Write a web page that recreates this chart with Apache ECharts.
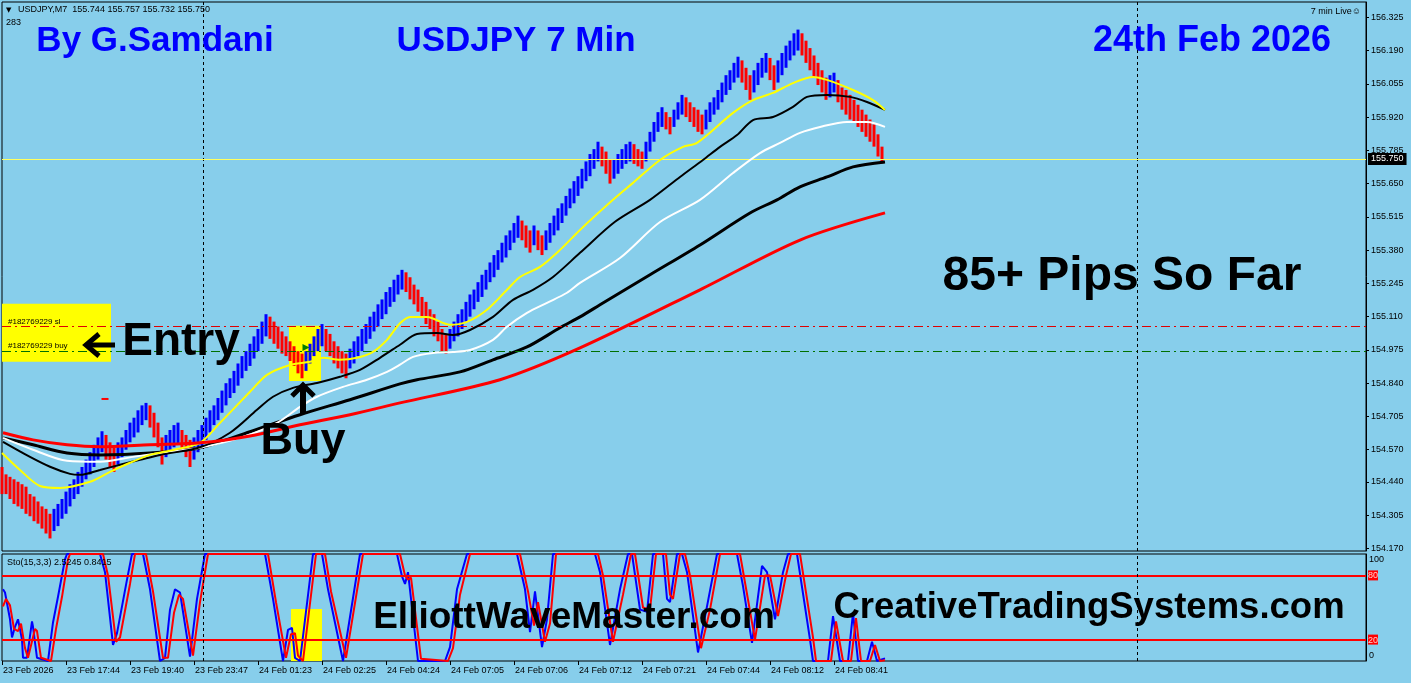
<!DOCTYPE html>
<html><head><meta charset="utf-8">
<script src="https://cdn.jsdelivr.net/npm/echarts@6/dist/echarts.min.js"></script>
<style>html,body{margin:0;padding:0;background:#87ceeb;}#c{width:1411px;height:683px;}</style>
</head><body><div id="c"></div>
<script>
// ---------- DATA ----------
const priceTickLabels = ['156.325','156.190','156.055','155.920','155.785','155.650','155.515','155.380','155.245','155.110','154.975','154.840','154.705','154.570','154.440','154.305','154.170'];
const timeLabels = ['23 Feb 2026','23 Feb 17:44','23 Feb 19:40','23 Feb 23:47','24 Feb 01:23','24 Feb 02:25','24 Feb 04:24','24 Feb 07:05','24 Feb 07:06','24 Feb 07:12','24 Feb 07:21','24 Feb 07:44','24 Feb 08:12','24 Feb 08:41'];
const timeLabelBars = [0,16,32,48,64,80,96,112,128,144,160,176,192,208];

const barLow = [
154.39,154.39,154.37,154.35,154.34,154.33,154.31,154.30,154.28,154.27,154.25,154.23,154.21,
154.24,154.26,154.29,154.31,154.34,154.37,154.39,154.42,154.45,154.47,154.50,154.53,154.56,
154.53,154.50,154.48,
154.51,154.54,154.57,154.60,154.62,154.64,154.67,154.69,
154.66,154.62,154.58,154.51,
154.54,154.56,154.58,154.59,
154.57,154.54,154.50,
154.53,154.56,154.58,154.61,154.64,154.67,154.69,154.72,154.75,154.78,154.80,154.83,154.86,154.89,154.91,154.94,154.97,155.00,155.03,
155.02,155.00,154.98,154.96,154.95,154.93,154.91,154.88,154.86,
154.89,154.92,154.95,154.97,154.99,
154.97,154.95,154.92,154.90,154.88,154.86,
154.90,154.92,154.95,154.97,155.00,155.02,155.05,155.07,155.10,155.12,155.15,155.17,155.20,155.22,
155.21,155.18,155.16,155.13,155.11,155.08,155.06,155.03,155.01,154.97,154.96,
154.98,155.01,155.03,155.06,155.09,155.11,155.14,155.17,155.19,155.22,155.25,155.27,155.30,155.33,155.35,155.38,155.41,155.43,
155.42,155.39,155.37,155.40,155.38,155.36,
155.38,155.41,155.44,155.46,155.49,155.52,155.55,155.57,155.60,155.63,155.66,155.68,155.71,155.74,
155.72,155.69,155.65,
155.67,155.69,155.71,155.73,155.74,
155.73,155.72,155.71,
155.74,155.78,155.82,155.86,155.88,
155.87,155.85,
155.88,155.91,155.93,
155.92,155.90,155.88,155.86,155.85,
155.87,155.90,155.93,155.95,155.98,156.01,156.03,156.06,156.08,
156.06,156.03,155.99,
156.02,156.05,156.08,156.10,
156.07,156.03,
156.06,156.09,156.12,156.15,156.17,156.19,
156.17,156.14,156.11,156.08,156.05,156.02,155.99,156.00,156.02,155.98,155.95,155.93,155.91,155.90,155.88,155.86,155.84,155.82,155.80,155.76,155.732
];
const barHigh = [
154.50,154.47,154.46,154.45,154.44,154.43,154.42,154.39,154.38,154.36,154.34,154.33,154.31,
154.33,154.35,154.37,154.40,154.43,154.45,154.48,154.50,154.53,154.56,154.59,154.62,154.645,
154.63,154.60,154.58,
154.60,154.62,154.65,154.68,154.70,154.73,154.75,154.76,
154.75,154.72,154.68,154.62,
154.63,154.65,154.67,154.68,
154.65,154.63,154.61,
154.62,154.65,154.67,154.70,154.73,154.75,154.78,154.81,154.84,154.86,154.89,154.92,154.95,154.97,155.00,155.03,155.06,155.09,155.12,
155.11,155.09,155.07,155.05,155.03,155.01,154.99,154.97,154.96,
154.97,155.00,155.03,155.06,155.08,
155.06,155.04,155.01,154.99,154.97,154.96,
154.98,155.01,155.03,155.06,155.08,155.11,155.13,155.16,155.18,155.21,155.23,155.26,155.28,155.30,
155.29,155.27,155.24,155.22,155.19,155.17,155.14,155.12,155.09,155.06,155.04,
155.06,155.09,155.12,155.14,155.17,155.20,155.22,155.25,155.28,155.30,155.33,155.36,155.38,155.41,155.44,155.46,155.49,155.52,
155.50,155.48,155.46,155.48,155.46,155.44,
155.46,155.49,155.52,155.55,155.57,155.60,155.63,155.66,155.68,155.71,155.74,155.77,155.79,155.82,
155.80,155.78,155.75,
155.75,155.77,155.79,155.81,155.82,
155.81,155.79,155.78,
155.82,155.86,155.90,155.94,155.96,
155.94,155.92,
155.95,155.98,156.01,
156.00,155.98,155.96,155.95,155.93,
155.95,155.98,156.00,156.03,156.06,156.09,156.11,156.14,156.165,
156.15,156.12,156.09,
156.11,156.14,156.16,156.18,
156.16,156.13,
156.15,156.18,156.21,156.23,156.26,156.275,
156.26,156.23,156.20,156.17,156.14,156.11,156.08,156.09,156.10,156.07,156.04,156.03,156.01,155.99,155.97,155.95,155.93,155.91,155.89,155.85,155.80
];

const maYellow = [[0,154.557],[4.5,154.488],[9.5,154.423],[14.5,154.415],[22,154.440],[27,154.480],[32,154.517],[37,154.549],[43,154.570],[49.5,154.598],[54.5,154.679],[62,154.805],[66.25,154.874],[72,154.914],[77,154.927],[80.25,154.943],[84.5,154.935],[88.75,154.943],[92.75,154.967],[96.25,155.016],[99.5,155.083],[102,155.109],[106.25,155.109],[112,155.077],[116.25,155.089],[121.25,155.138],[126.25,155.219],[129.5,155.271],[134.5,155.312],[139.5,155.381],[144.5,155.462],[152.75,155.584],[157.75,155.653],[164.5,155.746],[170.25,155.799],[173.75,155.815],[182.75,155.937],[187.75,155.989],[192.75,156.018],[197.75,156.058],[202.75,156.083],[206.25,156.071],[212.75,156.030],[217.75,155.989],[220.75,155.949]];
const maBlackFast = [[0.25,154.602],[7,154.541],[12,154.501],[17,154.472],[19.5,154.468],[24.5,154.488],[29.5,154.509],[34.5,154.529],[39.5,154.549],[49.5,154.580],[57,154.639],[63.75,154.732],[67.75,154.785],[72.75,154.821],[78.75,154.841],[84.5,154.866],[89.5,154.894],[94.5,154.943],[99.5,154.996],[103.75,155.040],[108.75,155.044],[112.75,155.036],[117,155.056],[122.75,155.109],[127.75,155.178],[132.75,155.219],[137.75,155.271],[144.5,155.369],[153.25,155.495],[162,155.584],[169.5,155.677],[175.25,155.746],[179.5,155.799],[183.75,155.847],[187.75,155.908],[192.75,155.920],[197.75,155.961],[201.25,156.002],[206.25,156.010],[212,156.002],[216.25,155.981],[220.75,155.949]];
const maWhite = [[0.25,154.618],[7.75,154.570],[16.25,154.525],[24.5,154.521],[32.75,154.541],[41.25,154.561],[49.5,154.578],[60.25,154.622],[68.75,154.679],[74.5,154.744],[78.75,154.785],[85.25,154.825],[91.25,154.854],[96.25,154.886],[99.5,154.915],[102.75,154.947],[107.75,154.963],[112.75,154.967],[117,154.975],[122.75,155.016],[126.25,155.069],[131.25,155.125],[136.25,155.166],[141.25,155.207],[144.5,155.247],[154.5,155.348],[164.5,155.494],[174.5,155.584],[182.75,155.693],[189.5,155.774],[194.5,155.815],[199.5,155.856],[204.5,155.880],[211.25,155.900],[216.25,155.900],[220.75,155.880]];
const maBlackSlow = [[0.25,154.618],[7.75,154.590],[16.25,154.557],[24.5,154.549],[37,154.557],[49.5,154.578],[62,154.643],[74.5,154.712],[87,154.773],[99.5,154.837],[103.75,154.854],[114.5,154.886],[122.75,154.935],[131.25,154.987],[139.5,155.065],[144.5,155.109],[149.5,155.158],[162,155.280],[174.5,155.401],[187,155.531],[193.75,155.584],[199.5,155.637],[206.25,155.677],[212.75,155.718],[220.75,155.738]];
const maRed = [[0.25,154.639],[7.75,154.610],[16.25,154.590],[24.5,154.582],[37,154.590],[49.5,154.598],[62,154.626],[74.5,154.671],[87,154.712],[99.5,154.760],[124.5,154.854],[144.5,154.983],[174.5,155.219],[199.5,155.421],[220.75,155.531]];

const stochMain = [[0.25,67],[0.75,64],[2,39],[2.5,22],[3.25,32],[4,39],[5,20],[5.25,3],[6.25,3],[7.5,37],[7.75,32],[8.75,3],[11.5,0],[12.75,36],[14,60],[15.75,95],[16.25,100],[24.5,100],[25.75,83],[27.75,15],[28.75,26],[31.25,76],[32.5,100],[35.25,100],[37,67],[39.5,0],[40.75,3],[42,48],[43.25,67],[44.5,64],[47,4],[48.75,58],[50.75,100],[65.75,100],[67.75,58],[70.25,0],[71.5,29],[72.5,31],[73.25,3],[74.5,0],[77.75,100],[80,100],[81.5,67],[85.25,0],[89.5,100],[98.75,100],[100,79],[100.75,72],[101.5,83],[104,0],[110.75,0],[112,13],[113.75,67],[116.25,100],[128.75,100],[130.75,67],[132,27],[133.25,65],[135,13],[136.25,39],[137.75,100],[148.25,100],[149.5,83],[152,15],[154.5,67],[156.5,100],[157.5,100],[159.5,48],[161.25,46],[162.75,100],[165.25,100],[166.25,58],[167,55],[168.75,100],[170,100],[171.25,83],[174,8],[176.25,51],[178.75,100],[183.75,100],[185.25,70],[187.5,17],[190,89],[191.25,83],[193.25,39],[195.25,83],[196.5,100],[198.75,100],[202,20],[202.75,0],[206.5,0],[207.75,42],[209.5,0],[211.5,0],[212.75,45],[214,0],[216.25,0],[217.5,18],[218.75,0],[220.75,2.5]];
const stochSignal = [[0.25,51],[1,58],[2,52],[3,30],[4,28],[4.75,35],[5.75,12],[6.5,3],[7,3],[8.25,30],[8.75,28],[9.75,3],[12.25,0],[13.5,30],[15,60],[16.5,95],[17,100],[25.25,100],[26.5,80],[28.5,18],[29.5,22],[32,72],[33.25,100],[36,100],[37.75,65],[40.25,3],[41.5,3],[43,45],[44.25,62],[45.25,58],[47.75,5],[49.5,55],[51.5,100],[66.5,100],[68.5,55],[71,3],[72.25,25],[73.25,26],[74,5],[75.25,0],[78.5,100],[80.75,100],[82.25,65],[86,3],[90.25,100],[99.5,100],[100.75,80],[101.5,76],[102.25,78],[104.75,2],[111.5,0],[112.75,12],[114.5,62],[117,100],[129.5,100],[131.5,65],[133,33],[134,55],[135.75,18],[137,35],[138.5,100],[149,100],[150.25,80],[152.75,18],[155.25,62],[157.25,100],[158.25,100],[160.25,50],[162,48],[163.5,100],[166,100],[167,62],[167.75,58],[169.5,100],[170.75,100],[172,80],[174.75,12],[177,48],[179.5,100],[184.5,100],[186,68],[188.25,20],[190.75,80],[192,80],[194,42],[196,80],[197.25,100],[199.5,100],[202.75,22],[203.5,0],[207.25,0],[208.5,37],[210.25,0],[212.25,0],[213.5,40],[214.75,0],[217,0],[218.25,15],[219.5,0],[220.75,0.8]];

const lastPrice = 155.750;
const slLevel = 155.067;
const buyLevel = 154.971;
const separatorBars = [50.25, 283.75];
const stochLevels = [80, 20];

// ---------- CHART ----------
const X_MAX = 341, Y_MIN = 154.159, Y_MAX = 156.387;
const FONT = 'Liberation Sans';
const priceTickValues = priceTickLabels.map(Number);
const bars = barLow.map((lo, i) => [i, lo, barHigh[i]]);
const mid = i => (barLow[i] + barHigh[i]) / 2;

const chart = echarts.init(document.getElementById('c'), null, {renderer: 'canvas'});
const vLines = separatorBars.map(v => ({xAxis: v, label: {show: false}, lineStyle: {color: '#000', type: [3, 3], width: 1}}));

function txt(text, x, y, size, color, align, weight, family) {
  return {type: 'text', x: x, y: y, z: 100, silent: true,
    style: {text: text, fontSize: size, fontFamily: family || FONT, fontWeight: weight || 'normal', fill: color, align: align || 'left', verticalAlign: 'middle'}};
}

const option = {
  backgroundColor: '#87ceeb',
  animation: false,
  grid: [
    {left: 2, right: 45, top: 2, height: 549, show: true, borderColor: '#000', borderWidth: 1, backgroundColor: 'transparent'},
    {left: 2, right: 45, top: 554, height: 107, show: true, borderColor: '#000', borderWidth: 1, backgroundColor: 'transparent'}
  ],
  xAxis: [
    {type: 'value', gridIndex: 0, min: 0, max: X_MAX, show: false, axisLine: {onZero: false}},
    {type: 'value', gridIndex: 1, min: 0, max: X_MAX, splitLine: {show: false}, axisLine: {show: false, onZero: false},
     axisTick: {show: true, customValues: timeLabelBars, length: 4, lineStyle: {color: '#000'}},
     axisLabel: {customValues: timeLabelBars, formatter: v => timeLabels[timeLabelBars.indexOf(v)] || '',
       align: 'left', margin: 5, fontSize: 9, fontFamily: FONT, color: '#000', padding: [0, 0, 0, 1]}}
  ],
  yAxis: [
    {type: 'value', gridIndex: 0, position: 'right', min: Y_MIN, max: Y_MAX, splitLine: {show: false},
     axisLine: {show: true, onZero: false, lineStyle: {color: '#000'}},
     axisTick: {show: true, customValues: priceTickValues, length: 3, lineStyle: {color: '#000'}},
     axisLabel: {customValues: priceTickValues, formatter: v => priceTickLabels[priceTickValues.indexOf(v)] || v.toFixed(3),
       margin: 5, fontSize: 9, fontFamily: FONT, color: '#000'}},
    {type: 'value', gridIndex: 1, position: 'right', min: 0, max: 100, splitLine: {show: false},
     axisLine: {show: true, onZero: false, lineStyle: {color: '#000'}},
     axisTick: {show: false},
     axisLabel: {customValues: [0, 20, 80, 100], margin: 2, fontSize: 9, fontFamily: FONT, color: '#000',
       formatter: v => v === 100 ? '{t|100}' : (v === 0 ? '{b|0}' : '{l|' + v + '}'),
       rich: {t: {padding: [12, 0, 0, 1], fontSize: 9, fontFamily: FONT},
              b: {padding: [0, 0, 10, 1], fontSize: 9, fontFamily: FONT},
              l: {backgroundColor: '#ff0000', color: '#ffd0d0', padding: [1, 0, 0, 0], fontSize: 9, fontFamily: FONT}}}}
  ],
  series: [
    {type: 'line', xAxisIndex: 0, yAxisIndex: 0, data: maRed, z: 1, silent: true, showSymbol: false,
     lineStyle: {opacity: 0},
     markArea: {silent: true, itemStyle: {color: '#ffff00', opacity: 1},
       data: [[{coord: [0, 155.162]}, {coord: [27.25, 154.927]}], [{coord: [71.75, 155.073]}, {coord: [79.75, 154.849]}]]},
     markLine: {silent: true, symbol: ['none', 'none'], animation: false,
       data: [
         {yAxis: slLevel, lineStyle: {color: '#e00000', type: [9, 4, 2, 4], width: 1},
          label: {show: true, position: 'insideStartTop', formatter: '#182769229 sl', fontSize: 8, fontFamily: FONT, color: '#000', distance: [6, 1]}},
         {yAxis: buyLevel, lineStyle: {color: '#007000', type: [9, 4, 2, 4], width: 1},
          label: {show: true, position: 'insideStartTop', formatter: '#182769229 buy', fontSize: 8, fontFamily: FONT, color: '#000', distance: [6, 1]}}
       ].concat(vLines)}},
    {type: 'custom', xAxisIndex: 0, yAxisIndex: 0, z: 3, data: bars, silent: true,
     renderItem: function (params, api) {
       const i = api.value(0);
       const top = api.coord([i, api.value(2)]);
       const bot = api.coord([i, api.value(1)]);
       const up = i > 0 && mid(i) > mid(i - 1);
       return {type: 'line', shape: {x1: top[0], y1: top[1], x2: bot[0], y2: bot[1]},
         style: {stroke: up ? '#0000ff' : '#ff0000', lineWidth: 3}};
     },
     markPoint: {silent: true, data: [
       {coord: [76, 154.985], symbol: 'triangle', symbolSize: [7, 7], symbolRotate: -90, itemStyle: {color: '#008000'}, label: {show: false}},
       {coord: [25.75, 154.776], symbol: 'rect', symbolSize: [7, 2], itemStyle: {color: '#ff0000'}, label: {show: false}}
     ]}},
    {type: 'line', xAxisIndex: 0, yAxisIndex: 0, data: maBlackSlow, z: 4, showSymbol: false, smooth: 0.3, silent: true, lineStyle: {color: '#000', width: 3}},
    {type: 'line', xAxisIndex: 0, yAxisIndex: 0, data: maWhite, z: 5, showSymbol: false, smooth: 0.3, silent: true, lineStyle: {color: '#fff', width: 2}},
    {type: 'line', xAxisIndex: 0, yAxisIndex: 0, data: maBlackFast, z: 6, showSymbol: false, smooth: 0.3, silent: true, lineStyle: {color: '#000', width: 2}},
    {type: 'line', xAxisIndex: 0, yAxisIndex: 0, data: maYellow, z: 7, showSymbol: false, smooth: 0.3, silent: true, lineStyle: {color: '#ffff00', width: 2}},
    {type: 'line', xAxisIndex: 0, yAxisIndex: 0, data: maRed, z: 8, showSymbol: false, smooth: 0.3, silent: true, lineStyle: {color: '#ff0000', width: 3},
     markLine: {silent: true, symbol: ['none', 'none'],
       data: [{yAxis: lastPrice, lineStyle: {color: '#ffff60', type: 'solid', width: 1},
         label: {show: true, position: 'end', formatter: lastPrice.toFixed(3), distance: 2, fontSize: 9, fontFamily: FONT,
           color: '#fff', backgroundColor: '#000', padding: [2, 3, 1, 3]}}]}},
    {type: 'line', xAxisIndex: 1, yAxisIndex: 1, data: stochSignal, z: 1, silent: true, showSymbol: false, lineStyle: {opacity: 0},
     markArea: {silent: true, itemStyle: {color: '#ffff00', opacity: 1}, data: [[{coord: [72.25, 48.6]}, {coord: [80, 0]}]]},
     markLine: {silent: true, symbol: ['none', 'none'],
       data: stochLevels.map(v => ({yAxis: v, label: {show: false}, lineStyle: {color: '#ff0000', type: 'solid', width: 2}})).concat(vLines)}},
    {type: 'line', xAxisIndex: 1, yAxisIndex: 1, data: stochMain, z: 3, showSymbol: false, silent: true, clip: false, lineStyle: {color: '#0000ff', width: 2}},
    {type: 'line', xAxisIndex: 1, yAxisIndex: 1, data: stochSignal, z: 4, showSymbol: false, silent: true, clip: false, lineStyle: {color: '#ff0000', width: 2}}
  ],
  graphic: [
    txt('\u25BC', 6, 10, 7, '#000', 'left', 'normal', 'DejaVu Sans'),
    txt('USDJPY,M7  155.744 155.757 155.732 155.750', 18, 10, 9, '#000'),
    txt('283', 6, 23, 9, '#000'),
    txt('7 min Live\u263A', 1361, 12, 9, '#000', 'right'),
    txt('By G.Samdani', 155, 41, 35, '#0000ff', 'center', 'bold'),
    txt('USDJPY 7 Min', 516, 41, 35, '#0000ff', 'center', 'bold'),
    txt('24th Feb 2026', 1212, 41, 36, '#0000ff', 'center', 'bold'),
    txt('85+ Pips So Far', 1122, 277, 48, '#000', 'center', 'bold'),
    txt('Entry', 181, 342, 46, '#000', 'center', 'bold'),
    txt('Buy', 303, 442, 45, '#000', 'center', 'bold'),
    txt('ElliottWaveMaster.com', 574, 618, 37, '#000', 'center', 'bold'),
    txt('CreativeTradingSystems.com', 1089, 608, 36.5, '#000', 'center', 'bold'),
    txt('Sto(15,3,3) 2.5245 0.8415', 7, 563, 9, '#000'),
    {type: 'polyline', z: 100, silent: true, shape: {points: [[99, 334], [86, 345], [99, 356]]}, style: {stroke: '#000', lineWidth: 5, fill: null, lineJoin: 'miter'}},
    {type: 'line', z: 100, silent: true, shape: {x1: 87, y1: 345, x2: 115, y2: 345}, style: {stroke: '#000', lineWidth: 5}},
    {type: 'polyline', z: 100, silent: true, shape: {points: [[292, 396], [303, 385], [314, 396]]}, style: {stroke: '#000', lineWidth: 5, fill: null, lineJoin: 'miter'}},
    {type: 'line', z: 100, silent: true, shape: {x1: 303, y1: 387, x2: 303, y2: 413}, style: {stroke: '#000', lineWidth: 6}}
  ]
};
chart.setOption(option);
</script></body></html>
